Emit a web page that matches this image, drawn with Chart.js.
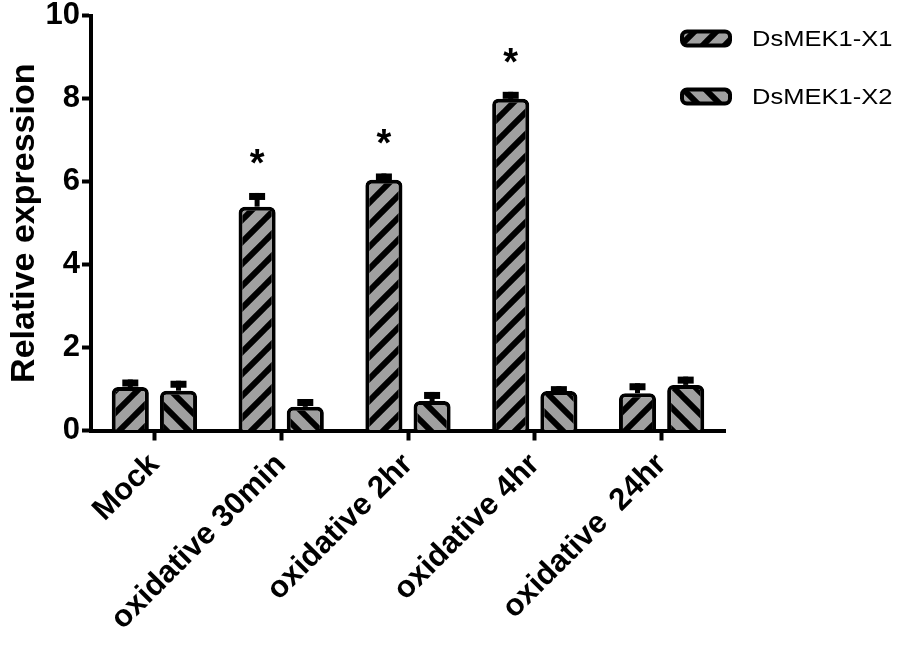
<!DOCTYPE html>
<html>
<head>
<meta charset="utf-8">
<script src="https://cdn.jsdelivr.net/npm/chart.js@4"></script>
<style>
  body { margin: 0; background: #fff; }
  #wrap { width: 898px; height: 645px; }
</style>
</head>
<body>
<div id="wrap"><canvas id="myChart"></canvas></div>
<script>
var categories = ["Mock", "oxidative 30min", "oxidative 2hr", "oxidative 4hr", "oxidative  24hr"];
var x1Values = [1.05, 5.4, 6.05, 8.0, 0.9];
var x1Errors = [0.18, 0.33, 0.15, 0.17, 0.24];
var x2Values = [0.96, 0.57, 0.71, 0.95, 1.1];
var x2Errors = [0.24, 0.19, 0.22, 0.12, 0.2];
var stars = ["", "*", "*", "*", ""];
var yTicks = [0, 2, 4, 6, 8, 10];
var FONT = "'Liberation Sans', Arial, sans-serif";

function makeHatch(dir) {
  var s = 22;
  var c = document.createElement("canvas");
  c.width = s; c.height = s;
  var g = c.getContext("2d");
  g.fillStyle = "#a0a0a0";
  g.fillRect(0, 0, s, s);
  g.strokeStyle = "#000";
  g.lineWidth = 6;
  g.beginPath();
  for (var k = -1; k <= 1; k++) {
    if (dir > 0) {
      g.moveTo(k * s - 2, s + 2); g.lineTo(k * s + s + 2, -2);
    } else {
      g.moveTo(k * s - 2, -2); g.lineTo(k * s + s + 2, s + 2);
    }
  }
  g.stroke();
  return g.createPattern(c, "repeat");
}

function roundRect(ctx, x, y, w, h, r) {
  ctx.beginPath();
  ctx.moveTo(x + r, y);
  ctx.arcTo(x + w, y, x + w, y + h, r);
  ctx.arcTo(x + w, y + h, x, y + h, r);
  ctx.arcTo(x, y + h, x, y, r);
  ctx.arcTo(x, y, x + w, y, r);
  ctx.closePath();
}

var extras = {
  id: "extras",
  afterDatasetsDraw: function(chart) {
    var ctx = chart.ctx;
    var y = chart.scales.y;
    var errs = [x1Errors, x2Errors];
    ctx.save();
    ctx.strokeStyle = "#000";
    ctx.fillStyle = "#000";
    ctx.lineWidth = 5;
    chart.data.datasets.forEach(function(ds, di) {
      var meta = chart.getDatasetMeta(di);
      meta.data.forEach(function(bar, i) {
        var top = y.getPixelForValue(ds.data[i] + errs[di][i]);
        ctx.beginPath();
        ctx.moveTo(bar.x, bar.y);
        ctx.lineTo(bar.x, top);
        ctx.stroke();
        ctx.fillRect(bar.x - 8, top, 16, 7);
      });
    });
    // significance stars
    var meta0 = chart.getDatasetMeta(0);
    ctx.font = "bold 38px " + FONT;
    ctx.textAlign = "center";
    ctx.textBaseline = "alphabetic";
    stars.forEach(function(s, i) {
      if (!s) return;
      var top = y.getPixelForValue(x1Values[i] + x1Errors[i]);
      ctx.fillText(s, meta0.data[i].x, top - 17);
    });
    // legend
    chart.data.datasets.forEach(function(ds, di) {
      var cy = 38.5 + di * 58;
      roundRect(ctx, 682, cy - 7, 48, 14, 5);
      ctx.fillStyle = ds.backgroundColor;
      ctx.fill();
      ctx.lineWidth = 4;
      ctx.strokeStyle = "#000";
      ctx.stroke();
      ctx.fillStyle = "#000";
      ctx.font = "22px " + FONT;
      ctx.textAlign = "left";
      ctx.textBaseline = "middle";
      ctx.save();
      ctx.translate(752, cy + 1);
      ctx.scale(1.16, 1);
      ctx.fillText(ds.label, 0, 0);
      ctx.restore();
    });
    ctx.restore();
  }
};

new Chart("myChart", {
  type: "bar",
  data: {
    labels: categories,
    datasets: [{
      label: "DsMEK1-X1",
      data: x1Values,
      backgroundColor: makeHatch(1),
      borderColor: "#000",
      borderWidth: 4,
      borderRadius: { topLeft: 6, topRight: 6 },
      borderSkipped: "bottom"
    }, {
      label: "DsMEK1-X2",
      data: x2Values,
      backgroundColor: makeHatch(-1),
      borderColor: "#000",
      borderWidth: 4,
      borderRadius: { topLeft: 6, topRight: 6 },
      borderSkipped: "bottom"
    }]
  },
  options: {
    responsive: true,
    maintainAspectRatio: false,
    animation: false,
    categoryPercentage: 0.76,
    barPercentage: 0.77,
    layout: { padding: { top: 15, right: 173, left: 0, bottom: 0 } },
    plugins: {
      tooltip: { enabled: false },
      legend: { display: false }
    },
    scales: {
      x: {
        afterFit: function(axis) { axis.height = 214.5; },
        grid: { display: true, drawOnChartArea: false, offset: false, tickLength: 10, tickWidth: 4, color: "#000" },
        border: { color: "#000", width: 4 },
        ticks: {
          color: "#000",
          maxRotation: 45,
          minRotation: 45,
          padding: 6,
          font: { family: FONT, size: 31, weight: "bold" }
        }
      },
      y: {
        min: 0,
        max: 10,
        afterFit: function(axis) { axis.width = 91; },
        afterBuildTicks: function(axis) {
          axis.ticks = yTicks.map(function(v) { return { value: v }; });
        },
        grid: { drawOnChartArea: false, tickLength: 9, tickWidth: 4, color: "#000" },
        border: { color: "#000", width: 4 },
        ticks: {
          color: "#000",
          padding: 2,
          font: { family: FONT, size: 31, weight: "bold", lineHeight: 0.9 }
        },
        title: {
          display: true,
          text: "Relative expression",
          color: "#000",
          padding: { top: 4, bottom: 0 },
          font: { family: FONT, size: 34, weight: "bold" }
        }
      }
    }
  },
  plugins: [extras]
});
</script>
</body>
</html>
